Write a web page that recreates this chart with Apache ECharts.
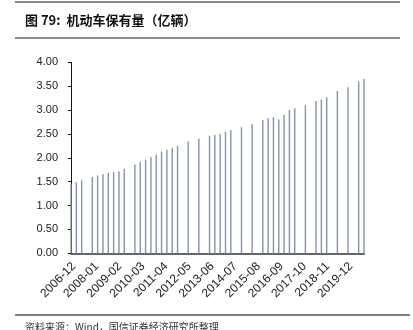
<!DOCTYPE html>
<html>
<head>
<meta charset="utf-8">
<script src="https://cdn.jsdelivr.net/npm/echarts@6/dist/echarts.min.js"></script>
<style>
html,body{margin:0;padding:0;background:#fff;}
#wrap{position:relative;width:413px;height:330px;overflow:hidden;background:#fff;}
#chart{position:absolute;left:0;top:0;width:413px;height:330px;}
</style>
</head>
<body>
<div id="wrap"><div id="chart"></div></div>
<script>
// Observation dates and values (亿辆)
const obsDates = ['2006-12','2007-03','2007-06','2007-12','2008-03','2008-06','2008-09','2008-12','2009-03','2009-06','2009-12','2010-03','2010-06','2010-09','2010-12','2011-03','2011-06','2011-09','2011-12','2012-06','2012-12','2013-06','2013-09','2013-12','2014-03','2014-06','2014-12','2015-06','2015-12','2016-03','2016-06','2016-09','2016-12','2017-03','2017-06','2017-12','2018-06','2018-09','2018-12','2019-06','2019-12','2020-06','2020-09'];
const obsValues = [1.45,1.49,1.53,1.60,1.63,1.66,1.68,1.70,1.72,1.77,1.86,1.91,1.96,2.01,2.07,2.13,2.17,2.21,2.25,2.34,2.40,2.46,2.48,2.50,2.55,2.58,2.64,2.71,2.79,2.83,2.85,2.80,2.90,3.00,3.04,3.10,3.19,3.22,3.27,3.40,3.48,3.60,3.65];
const axisStart = '2006-12';
const axisEnd = '2020-09';
const tickLabels = ['2006-12','2008-01','2009-02','2010-03','2011-04','2012-05','2013-06','2014-07','2015-08','2016-09','2017-10','2018-11','2019-12'];
const yTicks = ['0.00','0.50','1.00','1.50','2.00','2.50','3.00','3.50','4.00'];

// monthly category axis
const months = [];
(function(){
  let [y,m] = axisStart.split('-').map(Number);
  const [ey,em] = axisEnd.split('-').map(Number);
  while (y < ey || (y === ey && m <= em)) {
    months.push(y + '-' + String(m).padStart(2,'0'));
    m++; if (m > 12) { m = 1; y++; }
  }
})();
const lookup = {};
obsDates.forEach((d,i)=>{ lookup[d] = obsValues[i]; });
const seriesData = months.map(d => (d in lookup) ? lookup[d] : null);

const chart = echarts.init(document.getElementById('chart'), null, {renderer:'canvas'});
chart.setOption({
  animation: false,
  backgroundColor: '#fff',
  graphic: [
    {type:'line', shape:{x1:15,y1:2,x2:400,y2:2}, style:{stroke:'#888',lineWidth:2}},
    {type:'text', left:25, top:14, style:{text:'图 79:  机动车保有量（亿辆）', font:'bold 13px "Noto Sans CJK SC", sans-serif', fill:'#111'}},
    {type:'line', shape:{x1:15,y1:38,x2:400,y2:38}, style:{stroke:'#666',lineWidth:1.5}},
    {type:'line', shape:{x1:15,y1:315,x2:410,y2:315}, style:{stroke:'#555',lineWidth:1.5}},
    {type:'text', left:25, top:322, style:{text:'资料来源：Wind，国信证券经济研究所整理', font:'10px "Noto Sans CJK SC", sans-serif', fill:'#333'}}
  ],
  grid: {left:71, right:49, top:62.3, bottom:76.7, containLabel:false},
  xAxis: {
    type:'category',
    data: months,
    boundaryGap: false,
    axisLine: {show:true, lineStyle:{color:'#666', width:2}},
    axisTick: {show:false},
    axisLabel: {
      interval: 12,
      rotate: 45,
      margin: 14,
      padding: [0, -4, 0, 0],
      fontSize: 12,
      fontFamily: 'Liberation Sans, Arial, sans-serif',
      color: '#222',
      formatter: v => tickLabels.indexOf(v) >= 0 ? v : ''
    },
    splitLine: {show:false}
  },
  yAxis: {
    type:'value',
    min: 0, max: 4, interval: 0.5,
    axisLine: {show:true, lineStyle:{color:'#111', width:1}},
    axisTick: {show:true, inside:false, length:3, lineStyle:{color:'#111'}},
    axisLabel: {
      margin: 13,
      fontSize: 11,
      fontFamily: 'Liberation Sans, Arial, sans-serif',
      color: '#222',
      formatter: v => yTicks[Math.round(v/0.5)]
    },
    splitLine: {show:false}
  },
  series: [{
    type:'bar',
    data: seriesData,
    barWidth: 1.4,
    itemStyle: {color:'#8593A8'},
    z: 1
  }]
});
</script>
</body>
</html>
